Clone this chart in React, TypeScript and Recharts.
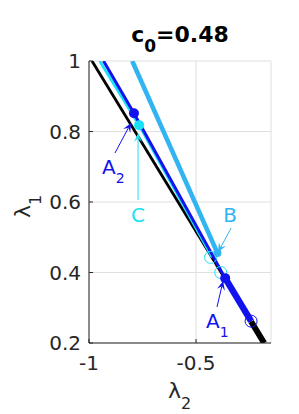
import React from 'react';
import { ComposedChart, Line, Scatter, XAxis, YAxis, CartesianGrid } from 'recharts';

// axes
const xTicks = [-1, -0.5];
const yTicks = [0.2, 0.4, 0.6, 0.8, 1];
const xDomain: [number, number] = [-1, -0.15];
const yDomain: [number, number] = [0.2, 1];

// curves (lambda2, lambda1)
const blackLineX = [-0.986, -0.243];
const blackLineY = [1.0, 0.261];
const blackThickX = [-0.243, -0.182];
const blackThickY = [0.261, 0.2];
const blueLineX = [-0.932, -0.79, -0.364];
const blueLineY = [1.0, 0.852, 0.384];
const blueThickX = [-0.364, -0.243];
const blueThickY = [0.384, 0.262];
const cyanLineX = [-0.95, -0.766, -0.425];
const cyanLineY = [1.0, 0.818, 0.443];
const skyLineX = [-0.798, -0.4];
const skyLineY = [1.0, 0.455];

// markers
const blueOpenX = [-0.243];
const blueOpenY = [0.262];
const cyanOpenX = [-0.432, -0.385];
const cyanOpenY = [0.443, 0.4];
const blueDotX = [-0.79, -0.364];
const blueDotY = [0.852, 0.384];
const cyanDotX = [-0.766];
const cyanDotY = [0.818];
const skyDotX = [-0.4];
const skyDotY = [0.455];

// annotations (arrow tip in data coords)
const annotText = ['A', 'C', 'B', 'A'];
const annotSub = ['2', '', '', '1'];
const annotX = [-0.804, -0.771, -0.397, -0.374];
const annotY = [0.824, 0.796, 0.458, 0.376];

// styling
const BLUE = '#1212ee';
const CYAN = '#18e2f6';
const SKY = '#33b4f2';
const INK = '#262626';
const FONT = 'DejaVu Sans';
const annotColor = [BLUE, CYAN, SKY, BLUE];
// tail offset (px) and label offset (px) relative to tip
const annotTail = [[-16, 30], [0, 67], [13, -24], [-6, 26]];
const annotLabel = [[-29, 51, 'start'], [0, 89, 'middle'], [12, -30, 'middle'], [-17, 47, 'start']];

const pts = (xs: number[], ys: number[]) => xs.map((x, i) => ({ x, y: ys[i], i }));

const annotData = pts(annotX, annotY);

const openCircle = (color: string) => (p: any) => (
  <circle cx={p.cx} cy={p.cy} r={6} fill="none" stroke={color} strokeWidth={1} />
);
const dot = (color: string, r: number) => (p: any) => (
  <circle cx={p.cx} cy={p.cy} r={r} fill={color} stroke="none" />
);

const AnnotShape = (p: any) => {
  const i = p.payload.i;
  const color = annotColor[i];
  const [tdx, tdy] = annotTail[i];
  const [lx, ly, anchor] = annotLabel[i] as [number, number, string];
  const tx = p.cx, ty = p.cy;
  const sx = tx + tdx, sy = ty + tdy;
  const len = Math.hypot(tdx, tdy);
  const ux = -tdx / len, uy = -tdy / len; // direction toward tip
  const nx = -uy, ny = ux;
  const hl = 9, hw = 4;
  const bx = tx - ux * hl, by = ty - uy * hl;
  const mx = tx - ux * hl * 0.6, my = ty - uy * hl * 0.6;
  const head = `${tx},${ty} ${bx + nx * hw},${by + ny * hw} ${mx},${my} ${bx - nx * hw},${by - ny * hw}`;
  return (
    <g>
      <line x1={sx} y1={sy} x2={mx} y2={my} stroke={color} strokeWidth={1} />
      <polygon points={head} fill={color} />
      <text x={tx + lx} y={ty + ly} fill={color} fontSize={20} fontFamily={FONT} textAnchor={anchor}>
        {annotText[i]}
        {annotSub[i] ? <tspan dy={9} fontSize={14}>{annotSub[i]}</tspan> : null}
      </text>
    </g>
  );
};

const noTick = () => <g />;

export default function App() {
  const common = { dot: false, activeDot: false, isAnimationActive: false, type: 'linear' as const, dataKey: 'y', legendType: 'none' as const };
  return (
    <div style={{ position: 'absolute', left: 0, top: 0, width: 299, height: 414, background: '#fff' }}>
      <ComposedChart width={299} height={414} margin={{ top: 61, right: 28, bottom: 41, left: 39 }}>
        <CartesianGrid stroke="#dfdfdf" strokeWidth={1} />
        <XAxis
          type="number"
          dataKey="x"
          domain={xDomain}
          ticks={xTicks}
          allowDataOverflow
          height={30}
          stroke={INK}
          tickSize={-4}
          tickMargin={17}
          tick={{ fill: INK, fontSize: 20, fontFamily: FONT }}
        />
        <XAxis
          xAxisId="top"
          orientation="top"
          type="number"
          dataKey="x"
          domain={xDomain}
          ticks={xTicks}
          allowDataOverflow
          height={0}
          stroke={INK}
          tickSize={-4}
          tick={noTick}
        />
        <YAxis
          type="number"
          dataKey="y"
          domain={yDomain}
          ticks={yTicks}
          allowDataOverflow
          width={50}
          stroke={INK}
          tickSize={-4}
          tickMargin={12}
          tick={{ fill: INK, fontSize: 20, fontFamily: FONT }}
        />
        <YAxis
          yAxisId="right"
          orientation="right"
          type="number"
          dataKey="y"
          domain={yDomain}
          ticks={yTicks}
          allowDataOverflow
          width={0}
          stroke={INK}
          tickSize={-4}
          tick={noTick}
        />
        <Line {...common} data={pts(blackLineX, blackLineY)} stroke="#000" strokeWidth={2.8} />
        <Line {...common} data={pts(blackThickX, blackThickY)} stroke="#000" strokeWidth={6} />
        <Line {...common} data={pts(cyanLineX, cyanLineY)} stroke={CYAN} strokeWidth={2.8} />
        <Line {...common} data={pts(blueLineX, blueLineY)} stroke={BLUE} strokeWidth={3} />
        <Line {...common} data={pts(blueThickX, blueThickY)} stroke={BLUE} strokeWidth={6.5} />
        <Line {...common} data={pts(skyLineX, skyLineY)} stroke={SKY} strokeWidth={4.6} />
        <Scatter data={pts(blueOpenX, blueOpenY)} shape={openCircle(BLUE)} isAnimationActive={false} />
        <Scatter data={pts(cyanOpenX, cyanOpenY)} shape={openCircle(CYAN)} isAnimationActive={false} />
        <Scatter data={pts(blueDotX, blueDotY)} shape={dot(BLUE, 5)} isAnimationActive={false} />
        <Scatter data={pts(cyanDotX, cyanDotY)} shape={dot(CYAN, 5)} isAnimationActive={false} />
        <Scatter data={pts(skyDotX, skyDotY)} shape={dot(SKY, 4)} isAnimationActive={false} />
        <Scatter data={annotData} shape={AnnotShape} isAnimationActive={false} />
      </ComposedChart>
      <svg width={299} height={414} style={{ position: 'absolute', left: 0, top: 0, pointerEvents: 'none' }}>
        <text x={180} y={41.7} textAnchor="middle" fontFamily={FONT} fontWeight="bold" fontSize={22} fill="#000">
          c<tspan dy={10} fontSize={17}>0</tspan><tspan dy={-10}>=0.48</tspan>
        </text>
        <text x={168} y={398} fontFamily={FONT} fontSize={22} fill={INK}>
          λ<tspan dy={11} fontSize={16}>2</tspan>
        </text>
        <text transform="translate(30,218) rotate(-90)" x={0} y={0} fontFamily={FONT} fontSize={22} fill={INK}>
          λ<tspan dy={11} fontSize={16}>1</tspan>
        </text>
      </svg>
    </div>
  );
}
